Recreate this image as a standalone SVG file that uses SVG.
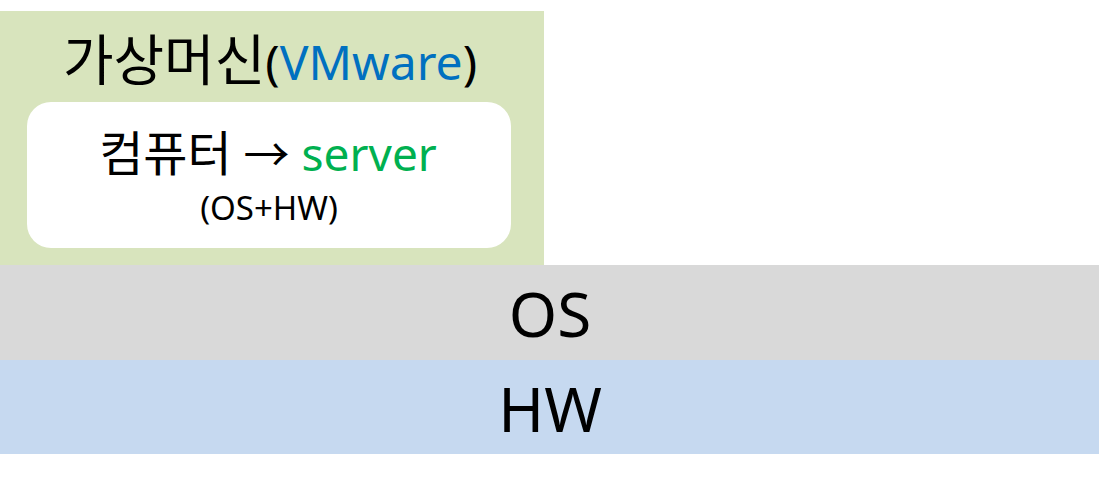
<svg xmlns="http://www.w3.org/2000/svg" width="1099" height="487" viewBox="0 0 1099 487">
<style>
text{font-family:"Noto Sans","Noto Sans CJK KR",sans-serif;fill:#000;text-anchor:middle}
.ko{font-family:"Noto Sans CJK KR",sans-serif}
</style>
<rect width="1099" height="487" fill="#fff"/>
<g id="vm">
<rect x="0" y="11" width="544" height="254" fill="#d8e4bd"/>
<text x="270" y="80" font-size="48"><tspan class="ko" font-size="55">가상머신</tspan>(<tspan fill="#0070c0">VMware</tspan>)</text>
</g>
<g id="computer">
<rect x="27" y="102" width="484" height="146" rx="24" fill="#fff"/>
<text x="268" y="171" font-size="46"><tspan class="ko" font-size="48">컴퓨터</tspan> → <tspan fill="#00b050">server</tspan></text>
<text x="269" y="220" font-size="33">(OS+HW)</text>
</g>
<g id="os">
<rect x="0" y="265" width="1099" height="95" fill="#d9d9d9"/>
<text x="550" y="337" font-size="62">OS</text>
</g>
<g id="hw">
<rect x="0" y="360" width="1099" height="94" fill="#c6d9f0"/>
<text x="550" y="432" font-size="62">HW</text>
</g>
<g id="connectors"/>
</svg>
